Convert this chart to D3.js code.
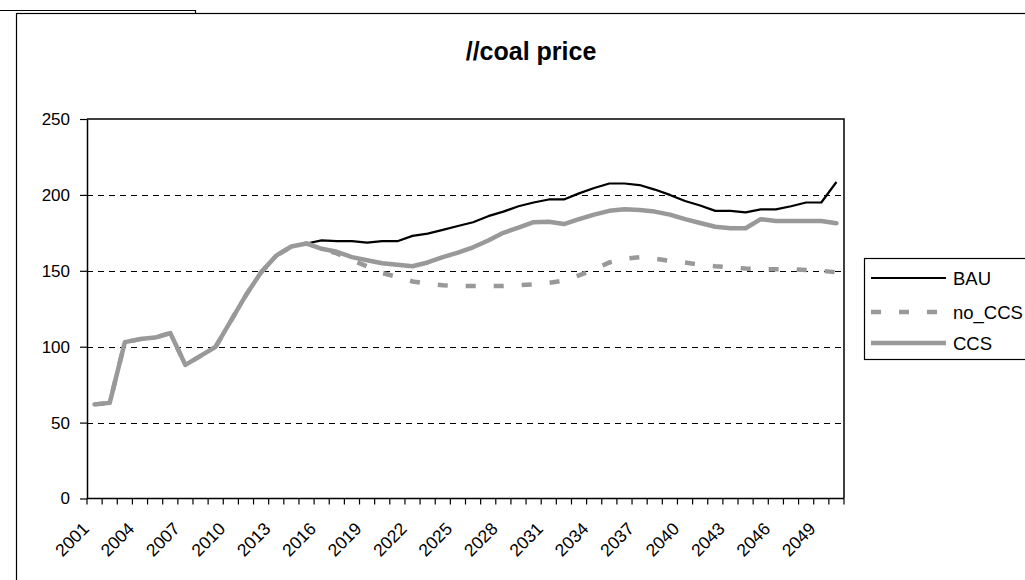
<!DOCTYPE html>
<html>
<head>
<meta charset="utf-8">
<script src="https://cdn.jsdelivr.net/npm/d3@7"></script>
<style>
  html, body { margin: 0; padding: 0; background: #fff; }
  svg { display: block; font-family: "Liberation Sans", Arial, sans-serif; }
</style>
</head>
<body>
<svg id="chart" width="1025" height="580"></svg>
<script>
// Coal price scenarios, 2001-2050
const years = d3.range(2001, 2051);
const seriesNames = ["BAU", "no_CCS", "CCS"];

const bau = [
  62, 63, 103, 105, 106, 109, 88, 94, 100, 117,
  134, 149, 160, 166, 168, 170, 169.5, 169.5, 168.5, 169.5,
  169.5, 173, 174.5, 177, 179.5, 182, 186, 189, 192.5, 195,
  197, 197, 201, 204.5, 207.5, 207.5, 206.5, 203.5, 200, 196,
  193, 189.5, 189.5, 188.5, 190.5, 190.5, 192.5, 195, 195, 208.5
];
const noCCS = [
  62, 63, 103, 105, 106, 109, 88, 94, 100, 117,
  134, 149, 160, 166, 168, 164.5, 161.5, 157, 153, 148.5,
  146, 143, 141.5, 140.5, 140, 140, 140, 140, 140.5, 141,
  142, 143.5, 147, 151, 155.5, 158, 159, 158, 156.5, 155.5,
  154, 153, 152.3, 151.5, 151, 151, 151, 150.5, 150, 149
];
const ccs = [
  62, 63, 103, 105, 106, 109, 88, 94, 100, 117,
  134, 149, 160, 166, 168, 164.5, 162.5, 159, 157, 155,
  154, 153, 155.5, 159, 162, 165.5, 170, 175, 178.5, 182,
  182.3, 180.8, 184, 187, 189.5, 190.5, 190, 189, 187, 184,
  181.5, 179, 178, 178, 184, 182.8, 182.8, 182.8, 182.8, 181.3
];
const yTicks = [0, 50, 100, 150, 200, 250];
const xLabelYears = d3.range(2001, 2051, 3);

const svg = d3.select("#chart");
const m = { left: 87, right: 844, top: 119, bottom: 498.5 };

// outer chart frames
svg.append("path")
  .attr("d", "M0,10.5H195.5V13")
  .attr("fill", "none").attr("stroke", "#000").attr("stroke-width", 1.2);
svg.append("rect")
  .attr("x", 16.5).attr("y", 13.5).attr("width", 1030).attr("height", 600)
  .attr("fill", "none").attr("stroke", "#000").attr("stroke-width", 1.2);

const x = d3.scaleBand().domain(years).range([m.left, m.right]).padding(0);
const cx = d => x(d) + x.bandwidth() / 2;
const y = d3.scaleLinear().domain([0, 250]).range([m.bottom, m.top]);

// horizontal dashed gridlines
svg.append("g").selectAll("line")
  .data(yTicks.filter(v => v > 0 && v < 250))
  .join("line")
  .attr("x1", m.left).attr("x2", m.right)
  .attr("y1", d => Math.round(y(d)) + 0.5).attr("y2", d => Math.round(y(d)) + 0.5)
  .attr("stroke", "#000").attr("stroke-width", 1)
  .attr("stroke-dasharray", "6,5");

// plot area border (top and right)
svg.append("path")
  .attr("d", `M${m.left},${y(250)}H${m.right}V${m.bottom}`)
  .attr("fill", "none").attr("stroke", "#000").attr("stroke-width", 1.5);

// y axis
const yAxis = svg.append("g")
  .attr("transform", `translate(${m.left},0)`)
  .call(d3.axisLeft(y).tickValues(yTicks).tickSizeInner(7).tickSizeOuter(0).tickPadding(10));
yAxis.select(".domain").attr("stroke-width", 1.5);
yAxis.selectAll(".tick line").attr("stroke-width", 1.2);
yAxis.selectAll("text").attr("font-size", 17).attr("fill", "#000")
  .attr("font-family", "Liberation Sans, Arial, sans-serif");

// x axis: ticks on category boundaries
const xg = svg.append("g");
xg.append("line")
  .attr("x1", m.left).attr("x2", m.right)
  .attr("y1", m.bottom).attr("y2", m.bottom)
  .attr("stroke", "#000").attr("stroke-width", 1.5);
const bounds = years.map(d => x(d)).concat([x.range()[1]]);
xg.selectAll("line.tk").data(bounds).join("line").attr("class", "tk")
  .attr("x1", d => d).attr("x2", d => d)
  .attr("y1", m.bottom).attr("y2", m.bottom + 6)
  .attr("stroke", "#000").attr("stroke-width", 1.2);
xg.selectAll("text").data(xLabelYears).join("text")
  .attr("transform", d => `translate(${cx(d) - 9},${m.bottom + 27}) rotate(-45)`)
  .attr("text-anchor", "end")
  .attr("dy", "0.36em")
  .attr("font-size", 17.5)
  .text(d => d);

// series lines
const line = vals => d3.line()
  .x((d, i) => cx(years[i]))
  .y(d => y(d))(vals);

svg.append("path").attr("d", line(bau))
  .attr("fill", "none").attr("stroke", "#000").attr("stroke-width", 2.2)
  .attr("stroke-linejoin", "round");
svg.append("path").attr("d", line(noCCS))
  .attr("fill", "none").attr("stroke", "#999").attr("stroke-width", 4.5)
  .attr("stroke-dasharray", "10,18");
svg.append("path").attr("d", line(ccs))
  .attr("fill", "none").attr("stroke", "#999").attr("stroke-width", 4.5)
  .attr("stroke-linejoin", "round").attr("stroke-linecap", "round");

// title
svg.append("text")
  .attr("x", 531).attr("y", 60)
  .attr("text-anchor", "middle")
  .attr("font-size", 25).attr("font-weight", "bold")
  .text("//coal price");

// legend
const lg = svg.append("g");
lg.append("rect").attr("x", 864.5).attr("y", 258.5).attr("width", 200).attr("height", 101)
  .attr("fill", "#fff").attr("stroke", "#000").attr("stroke-width", 1.2);
const legendItems = [
  { name: seriesNames[0], y: 278, stroke: "#000", w: 2.2, dash: null },
  { name: seriesNames[1], y: 312, stroke: "#999", w: 4.5, dash: "10,18" },
  { name: seriesNames[2], y: 343, stroke: "#999", w: 4.5, dash: null }
];
legendItems.forEach(it => {
  lg.append("line").attr("x1", 871).attr("x2", 946).attr("y1", it.y).attr("y2", it.y)
    .attr("stroke", it.stroke).attr("stroke-width", it.w)
    .attr("stroke-dasharray", it.dash);
  lg.append("text").attr("x", 953).attr("y", it.y).attr("dy", "0.36em")
    .attr("font-size", 18.5).text(it.name);
});
</script>
</body>
</html>
